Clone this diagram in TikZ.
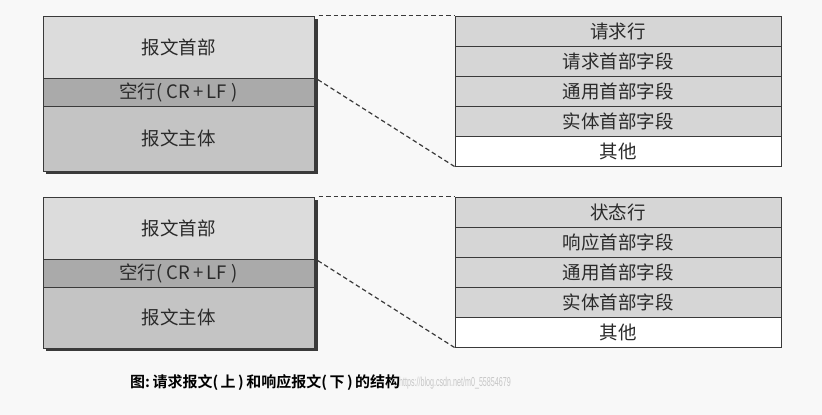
\documentclass[tikz,border=0pt]{standalone}
\usepackage{fontspec}
\setmainfont{Liberation Sans}
\newfontfamily\cjk{Noto Sans CJK SC}
\newfontfamily\cjkb{Noto Sans CJK SC Bold}
\definecolor{bgc}{HTML}{F8F8F8}
\definecolor{hdr}{HTML}{DCDCDC}
\definecolor{blank}{HTML}{AAAAAA}
\definecolor{body}{HTML}{C4C4C4}
\definecolor{row}{HTML}{D6D6D6}
\definecolor{edge}{HTML}{3A3A3A}
\definecolor{txt}{HTML}{2A2A2A}
\tikzset{
  cell/.style={draw=edge, line width=1pt, inner sep=0pt, text=txt,
    font=\cjk\fontsize{18.5}{21}\selectfont},
  lcell/.style={cell, minimum width=271pt},
  rcell/.style={cell, minimum width=326pt, minimum height=30pt, fill=row},
  link/.style={draw=edge, line width=1.2pt, dash pattern=on 4.5pt off 3pt},
}
\begin{document}
\begin{tikzpicture}[x=1pt,y=-1pt]
\fill[bgc] (0,0) rectangle (822,415);
\useasboundingbox (0,0) rectangle (822,415);
% shadows
\fill[edge] (46,19) rectangle (318,174);
\fill[edge] (46,200) rectangle (318,351);
% top left box
\node[lcell, fill=hdr, minimum height=62pt] (th) at (178.5,47) {报文首部};
\node[lcell, fill=blank, minimum height=28pt] (tb) at (178.5,92) {空行(\ CR\,+\,LF\ )};
\node[lcell, fill=body, minimum height=65pt] (tm) at (178.5,138.5) {报文主体};
% bottom left box
\node[lcell, fill=hdr, minimum height=62pt] (bh) at (178.5,228) {报文首部};
\node[lcell, fill=blank, minimum height=28pt] (bb) at (178.5,273) {空行(\ CR\,+\,LF\ )};
\node[lcell, fill=body, minimum height=61pt] (bm) at (178.5,317.5) {报文主体};
% top right
\node[rcell] (r1) at (618,31) {请求行};
\node[rcell] (r2) at (618,61) {请求首部字段};
\node[rcell] (r3) at (618,91) {通用首部字段};
\node[rcell] (r4) at (618,121) {实体首部字段};
\node[rcell, fill=white] (r5) at (618,151) {其他};
% bottom right
\node[rcell] (s1) at (618,212) {状态行};
\node[rcell] (s2) at (618,242) {响应首部字段};
\node[rcell] (s3) at (618,272) {通用首部字段};
\node[rcell] (s4) at (618,302) {实体首部字段};
\node[rcell, fill=white] (s5) at (618,332) {其他};
% dashed links
\draw[link, shorten <=4pt] (th.north east) -- (r1.north west);
\draw[link, shorten <=4pt] (tb.north east) -- (r5.south west);
\draw[link, shorten <=4pt] (bh.north east) -- (s1.north west);
\draw[link, shorten <=4pt] (bb.north east) -- (s5.south west);
% caption
\node[text=black, font=\cjkb\fontsize{15}{18}\selectfont, anchor=west, inner sep=0pt] (cap) at (130,383) {图:\,请求报文(\,上\,)\,和响应报文(\,下\,)\,的结构};
\node[text=black!22, font=\fontsize{13}{15}\selectfont, anchor=west, xscale=0.55, inner sep=0pt] (wm) at (399,383) {https://blog.csdn.net/m0\_55854679};
\end{tikzpicture}
\end{document}
